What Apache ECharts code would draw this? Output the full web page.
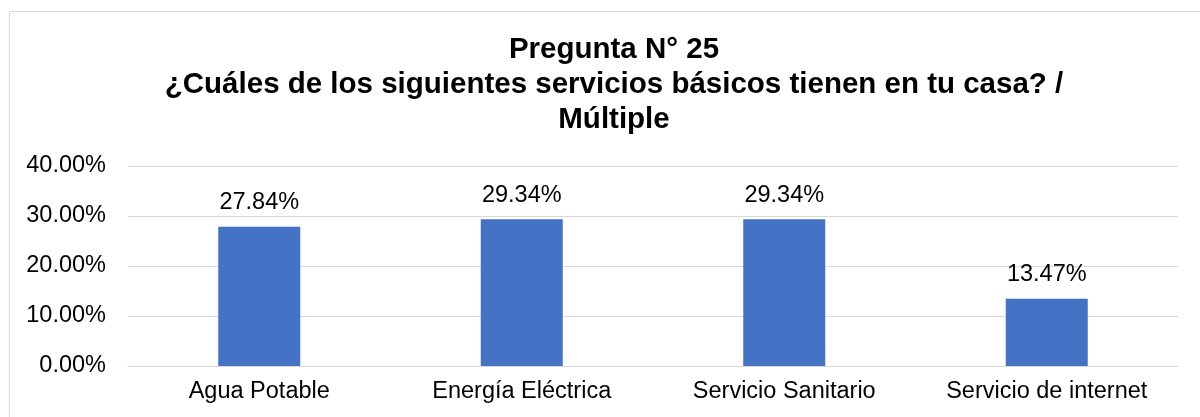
<!DOCTYPE html>
<html>
<head>
<meta charset="utf-8">
<script src="https://cdn.jsdelivr.net/npm/echarts@6/dist/echarts.min.js"></script>
<style>
  html, body { margin: 0; padding: 0; background: #fff; }
  #chart_box { width: 1200px; height: 417px; }
</style>
</head>
<body>
<div id="chart_box"></div>
<script>
// datos
var categorias = ['Agua Potable', 'Energía Eléctrica', 'Servicio Sanitario', 'Servicio de internet'];
var valores = [27.84, 29.34, 29.34, 13.47];
var ticksY = [0, 10, 20, 30, 40];

var myChart = echarts.init(document.getElementById('chart_box'));
var option = {
	animation: false,
	textStyle: { fontFamily: 'Liberation Sans, Arial, sans-serif' },
	title: {
		text: 'Pregunta N° 25\n¿Cuáles de los siguientes servicios básicos tienen en tu casa? /\nMúltiple',
		left: 609,
		textAlign: 'center',
		top: 27,
		textStyle: {
			fontSize: 29.5,
			fontWeight: 'bold',
			color: '#000',
			lineHeight: 35,
			fontFamily: 'Liberation Sans, Arial, sans-serif'
		}
	},
	graphic: [{
		type: 'rect',
		silent: true,
		shape: { x: 9.5, y: 11.5, width: 1200, height: 420 },
		style: { fill: 'none', stroke: '#d9d9d9', lineWidth: 1 }
	}],
	grid: { left: 128, right: 22, top: 166, bottom: 51 },
	xAxis: {
		type: 'category',
		data: categorias,
		axisTick: { show: false },
		axisLine: { show: true, lineStyle: { color: '#d9d9d9' } },
		axisLabel: { color: '#000', fontSize: 23.5, margin: 14 }
	},
	yAxis: {
		type: 'value',
		min: ticksY[0],
		max: ticksY[ticksY.length - 1],
		interval: 10,
		axisLine: { show: false },
		axisTick: { show: false },
		splitLine: { lineStyle: { color: '#d9d9d9' } },
		axisLabel: {
			color: '#000',
			fontSize: 23.5,
			margin: 22,
			formatter: function(v) { return v.toFixed(2) + '%'; }
		}
	},
	series: [{
		type: 'bar',
		data: valores,
		barWidth: 82,
		itemStyle: { color: '#4472c4' },
		label: {
			show: true,
			position: 'top',
			distance: 12,
			color: '#000',
			fontSize: 23.5,
			formatter: function(p) { return p.value.toFixed(2) + '%'; }
		}
	}]
};
myChart.setOption(option);
</script>
</body>
</html>
